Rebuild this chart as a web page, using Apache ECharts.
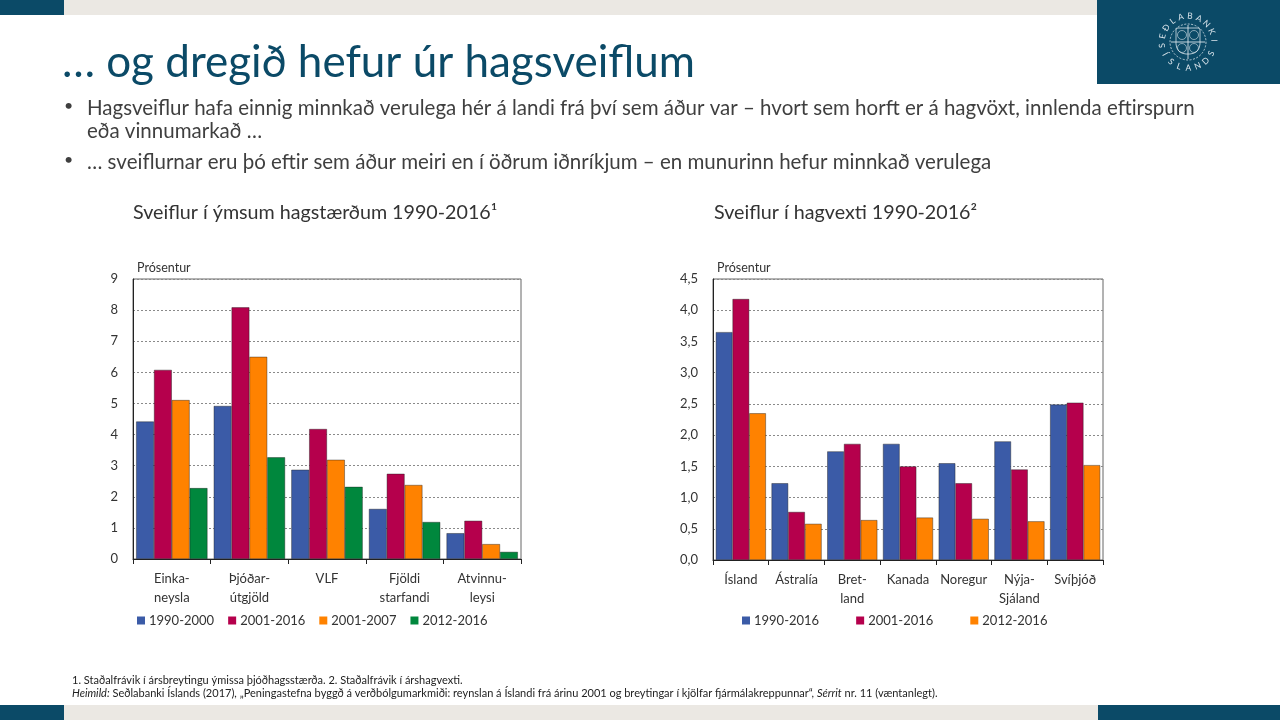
<!DOCTYPE html>
<html>
<head>
<meta charset="utf-8">
<script src="https://cdn.jsdelivr.net/npm/echarts@6/dist/echarts.min.js"></script>
<style>
  html, body { margin: 0; padding: 0; background: #fff; }
  #chart { width: 1280px; height: 720px; }
</style>
</head>
<body>
<div id="chart"></div>
<script>
// data
var leftCategories = ['Einka-\nneysla', 'Þjóðar-\nútgjöld', 'VLF', 'Fjöldi\nstarfandi', 'Atvinnu-\nleysi'];
var leftSeriesNames = ['1990-2000', '2001-2016', '2001-2007', '2012-2016'];
var left1990_2000 = [4.42, 4.92, 2.87, 1.61, 0.83];
var left2001_2016 = [6.08, 8.09, 4.18, 2.74, 1.23];
var left2001_2007 = [5.11, 6.50, 3.19, 2.38, 0.48];
var left2012_2016 = [2.28, 3.27, 2.32, 1.19, 0.23];

var rightCategories = ['Ísland', 'Ástralía', 'Bret-\nland', 'Kanada', 'Noregur', 'Nýja-\nSjáland', 'Svíþjóð'];
var rightSeriesNames = ['1990-2016', '2001-2016', '2012-2016'];
var right1990_2016 = [3.65, 1.23, 1.74, 1.86, 1.55, 1.90, 2.49];
var right2001_2016 = [4.18, 0.77, 1.86, 1.50, 1.23, 1.45, 2.52];
var right2012_2016 = [2.35, 0.58, 0.64, 0.68, 0.66, 0.62, 1.52];

var blue = '#3b5ba7', crimson = '#b5004c', orange = '#ff8200', green = '#00873d';
var teal = '#0b4a67', band = '#ebe8e3';
var font = 'Lato, "Open Sans", sans-serif';

var myChart = echarts.init(document.getElementById('chart'));

// seal of the bank in the corner
var seal = [];
var cx = 1188, cy = 42, r = 26;
var sealInk = '#d9e4eb';
'SEÐLABANKI'.split('').forEach(function (ch, i) {
    var a = (-188 + i * 20.5) * Math.PI / 180;
    seal.push({
        type: 'text', x: cx + r * Math.cos(a), y: cy + r * Math.sin(a),
        rotation: -(a + Math.PI / 2),
        style: { text: ch, fill: sealInk, font: '8.5px ' + font, align: 'center', verticalAlign: 'middle' }
    });
});
'ÍSLANDS'.split('').forEach(function (ch, i) {
    var a = (152 - i * 21) * Math.PI / 180;
    seal.push({
        type: 'text', x: cx + r * Math.cos(a), y: cy + r * Math.sin(a),
        rotation: -(a - Math.PI / 2),
        style: { text: ch, fill: sealInk, font: '8.5px ' + font, align: 'center', verticalAlign: 'middle' }
    });
});
seal.push(
    { type: 'circle', shape: { cx: cx, cy: cy, r: 18 }, style: { fill: 'none', stroke: sealInk, lineWidth: 0.8, lineDash: [2, 1.5] } },
    { type: 'line', shape: { x1: cx - 17, y1: cy, x2: cx + 17, y2: cy }, style: { stroke: sealInk, lineWidth: 0.9 } },
    { type: 'line', shape: { x1: cx, y1: cy - 17, x2: cx, y2: cy + 17 }, style: { stroke: sealInk, lineWidth: 0.9 } },
    { type: 'rect', shape: { x: cx - 12, y: cy - 14, width: 24, height: 26, r: [2, 2, 10, 10] }, style: { fill: 'none', stroke: sealInk, lineWidth: 0.8 } },
    { type: 'circle', shape: { cx: cx - 6, cy: cy - 7, r: 4.5 }, style: { fill: 'none', stroke: sealInk, lineWidth: 0.6 } },
    { type: 'circle', shape: { cx: cx + 6, cy: cy - 7, r: 4.5 }, style: { fill: 'none', stroke: sealInk, lineWidth: 0.6 } },
    { type: 'circle', shape: { cx: cx - 6, cy: cy + 6, r: 4.5 }, style: { fill: 'none', stroke: sealInk, lineWidth: 0.6 } },
    { type: 'circle', shape: { cx: cx + 6, cy: cy + 6, r: 4.5 }, style: { fill: 'none', stroke: sealInk, lineWidth: 0.6 } }
);

var bulletFont = '20.5px ' + font;
var ink = '#3f3f3f';

var option = {
    animation: false,
    backgroundColor: '#ffffff',
    textStyle: { fontFamily: font },
    graphic: [
        // slide bands
        { type: 'rect', shape: { x: 0, y: 0, width: 64, height: 15 }, style: { fill: teal } },
        { type: 'rect', shape: { x: 64, y: 0, width: 1033, height: 15 }, style: { fill: band } },
        { type: 'rect', shape: { x: 1097, y: 0, width: 183, height: 84 }, style: { fill: teal } },
        { type: 'rect', shape: { x: 0, y: 705, width: 64, height: 15 }, style: { fill: teal } },
        { type: 'rect', shape: { x: 64, y: 705, width: 1034, height: 15 }, style: { fill: band } },
        { type: 'rect', shape: { x: 1098, y: 705, width: 182, height: 15 }, style: { fill: teal } },
        // slide title and bullets
        { type: 'text', x: 62, y: 41, style: { text: '… og dregið hefur úr hagsveiflum', fill: teal, font: '44px ' + font } },
        { type: 'text', x: 64, y: 98, style: { text: '•', fill: ink, font: '16px ' + font } },
        { type: 'text', x: 87, y: 98, style: { text: 'Hagsveiflur hafa einnig minnkað verulega hér á landi frá því sem áður var – hvort sem horft er á hagvöxt, innlenda eftirspurn', fill: ink, font: bulletFont } },
        { type: 'text', x: 87, y: 121, style: { text: 'eða vinnumarkað …', fill: ink, font: bulletFont } },
        { type: 'text', x: 64, y: 152, style: { text: '•', fill: ink, font: '16px ' + font } },
        { type: 'text', x: 87, y: 152, style: { text: '… sveiflurnar eru þó eftir sem áður meiri en í öðrum iðnríkjum – en munurinn hefur minnkað verulega', fill: ink, font: bulletFont } },
        // chart titles
        { type: 'text', x: 133, y: 203, style: { text: 'Sveiflur í ýmsum hagstærðum 1990-2016¹', fill: '#333', font: '19.7px ' + font } },
        { type: 'text', x: 714, y: 203, style: { text: 'Sveiflur í hagvexti 1990-2016²', fill: '#333', font: '19.7px ' + font } },
        { type: 'text', x: 137, y: 261, style: { text: 'Prósentur', fill: '#333', font: '12.5px ' + font } },
        { type: 'text', x: 717, y: 261, style: { text: 'Prósentur', fill: '#333', font: '12.5px ' + font } },
        // footnotes
        {
            type: 'text', x: 72, y: 675, style: {
                text: '1. Staðalfrávik í ársbreytingu ýmissa þjóðhagsstærða. 2. Staðalfrávik í árshagvexti.',
                fill: '#222', font: '11px ' + font
            }
        },
        {
            type: 'text', x: 72, y: 688, style: {
                text: '{i|Heimild:} Seðlabanki Íslands (2017), „Peningastefna byggð á verðbólgumarkmiði: reynslan á Íslandi frá árinu 2001 og breytingar í kjölfar fjármálakreppunnar“, {i|Sérrit} nr. 11 (væntanlegt).',
                fill: '#222', font: '11px ' + font,
                rich: { i: { fontStyle: 'italic', fontSize: 11, fontFamily: font, fill: '#222' } }
            }
        }
    ].concat(seal),
    grid: [
        { left: 133, top: 279, width: 388, height: 280, show: true, borderColor: '#666', borderWidth: 1, backgroundColor: 'transparent' },
        { left: 713, top: 279, width: 390, height: 281, show: true, borderColor: '#666', borderWidth: 1, backgroundColor: 'transparent' }
    ],
    legend: [
        {
            data: leftSeriesNames.map(function (n, i) {
                return { name: n, itemStyle: { color: [blue, crimson, orange, green][i], borderWidth: 0 } };
            }),
            left: 132, top: 609, itemWidth: 8, itemHeight: 8, itemGap: 14,
            icon: 'rect', textStyle: { fontSize: 13, color: '#333', fontFamily: font, padding: [0, 0, 0, -1] }
        },
        {
            data: rightSeriesNames.map(function (n, i) {
                return { name: n, itemStyle: { color: [blue, crimson, orange][i], borderWidth: 0 } };
            }),
            left: 737, top: 609, itemWidth: 8, itemHeight: 8, itemGap: 37,
            icon: 'rect', textStyle: { fontSize: 13, color: '#333', fontFamily: font, padding: [0, 0, 0, -1] }
        }
    ],
    xAxis: [
        {
            type: 'category', gridIndex: 0, data: leftCategories,
            axisLine: { lineStyle: { color: '#222' } },
            axisTick: { show: true, length: 5, lineStyle: { color: '#222' } },
            axisLabel: { color: '#333', fontSize: 13, lineHeight: 19, margin: 10, interval: 0 }
        },
        {
            type: 'category', gridIndex: 1, data: rightCategories,
            axisLine: { lineStyle: { color: '#222' } },
            axisTick: { show: true, length: 5, lineStyle: { color: '#222' } },
            axisLabel: { color: '#333', fontSize: 13, lineHeight: 19, margin: 10, interval: 0 }
        }
    ],
    yAxis: [
        {
            type: 'value', gridIndex: 0, min: 0, max: 9, interval: 1,
            axisLine: { show: true, lineStyle: { color: '#222' } },
            axisTick: { show: false },
            axisLabel: { color: '#333', fontSize: 13, margin: 15 },
            splitLine: { lineStyle: { color: '#8a8a8a', type: [2, 2], width: 1 } }
        },
        {
            type: 'value', gridIndex: 1, min: 0, max: 4.5, interval: 0.5,
            axisLine: { show: true, lineStyle: { color: '#222' } },
            axisTick: { show: false },
            axisLabel: {
                color: '#333', fontSize: 13, margin: 15,
                formatter: function (v) { return v.toFixed(1).replace('.', ','); }
            },
            splitLine: { lineStyle: { color: '#8a8a8a', type: [2, 2], width: 1 } }
        }
    ],
    series: [
        { name: leftSeriesNames[0], type: 'bar', xAxisIndex: 0, yAxisIndex: 0, data: left1990_2000, itemStyle: { color: blue } },
        { name: leftSeriesNames[1], type: 'bar', xAxisIndex: 0, yAxisIndex: 0, data: left2001_2016, itemStyle: { color: crimson } },
        { name: leftSeriesNames[2], type: 'bar', xAxisIndex: 0, yAxisIndex: 0, data: left2001_2007, itemStyle: { color: orange } },
        { name: leftSeriesNames[3], type: 'bar', xAxisIndex: 0, yAxisIndex: 0, data: left2012_2016, itemStyle: { color: green } },
        { name: rightSeriesNames[0], type: 'bar', xAxisIndex: 1, yAxisIndex: 1, data: right1990_2016, itemStyle: { color: blue } },
        { name: rightSeriesNames[1], type: 'bar', xAxisIndex: 1, yAxisIndex: 1, data: right2001_2016, itemStyle: { color: crimson } },
        { name: rightSeriesNames[2], type: 'bar', xAxisIndex: 1, yAxisIndex: 1, data: right2012_2016, itemStyle: { color: orange } }
    ].map(function (s) {
        s.barGap = '0%';
        s.barCategoryGap = s.xAxisIndex === 0 ? '8%' : '10%';
        s.itemStyle.borderColor = 'rgba(30,30,30,0.7)';
        s.itemStyle.borderWidth = 0.6;
        return s;
    })
};

option && myChart.setOption(option);
</script>
</body>
</html>
